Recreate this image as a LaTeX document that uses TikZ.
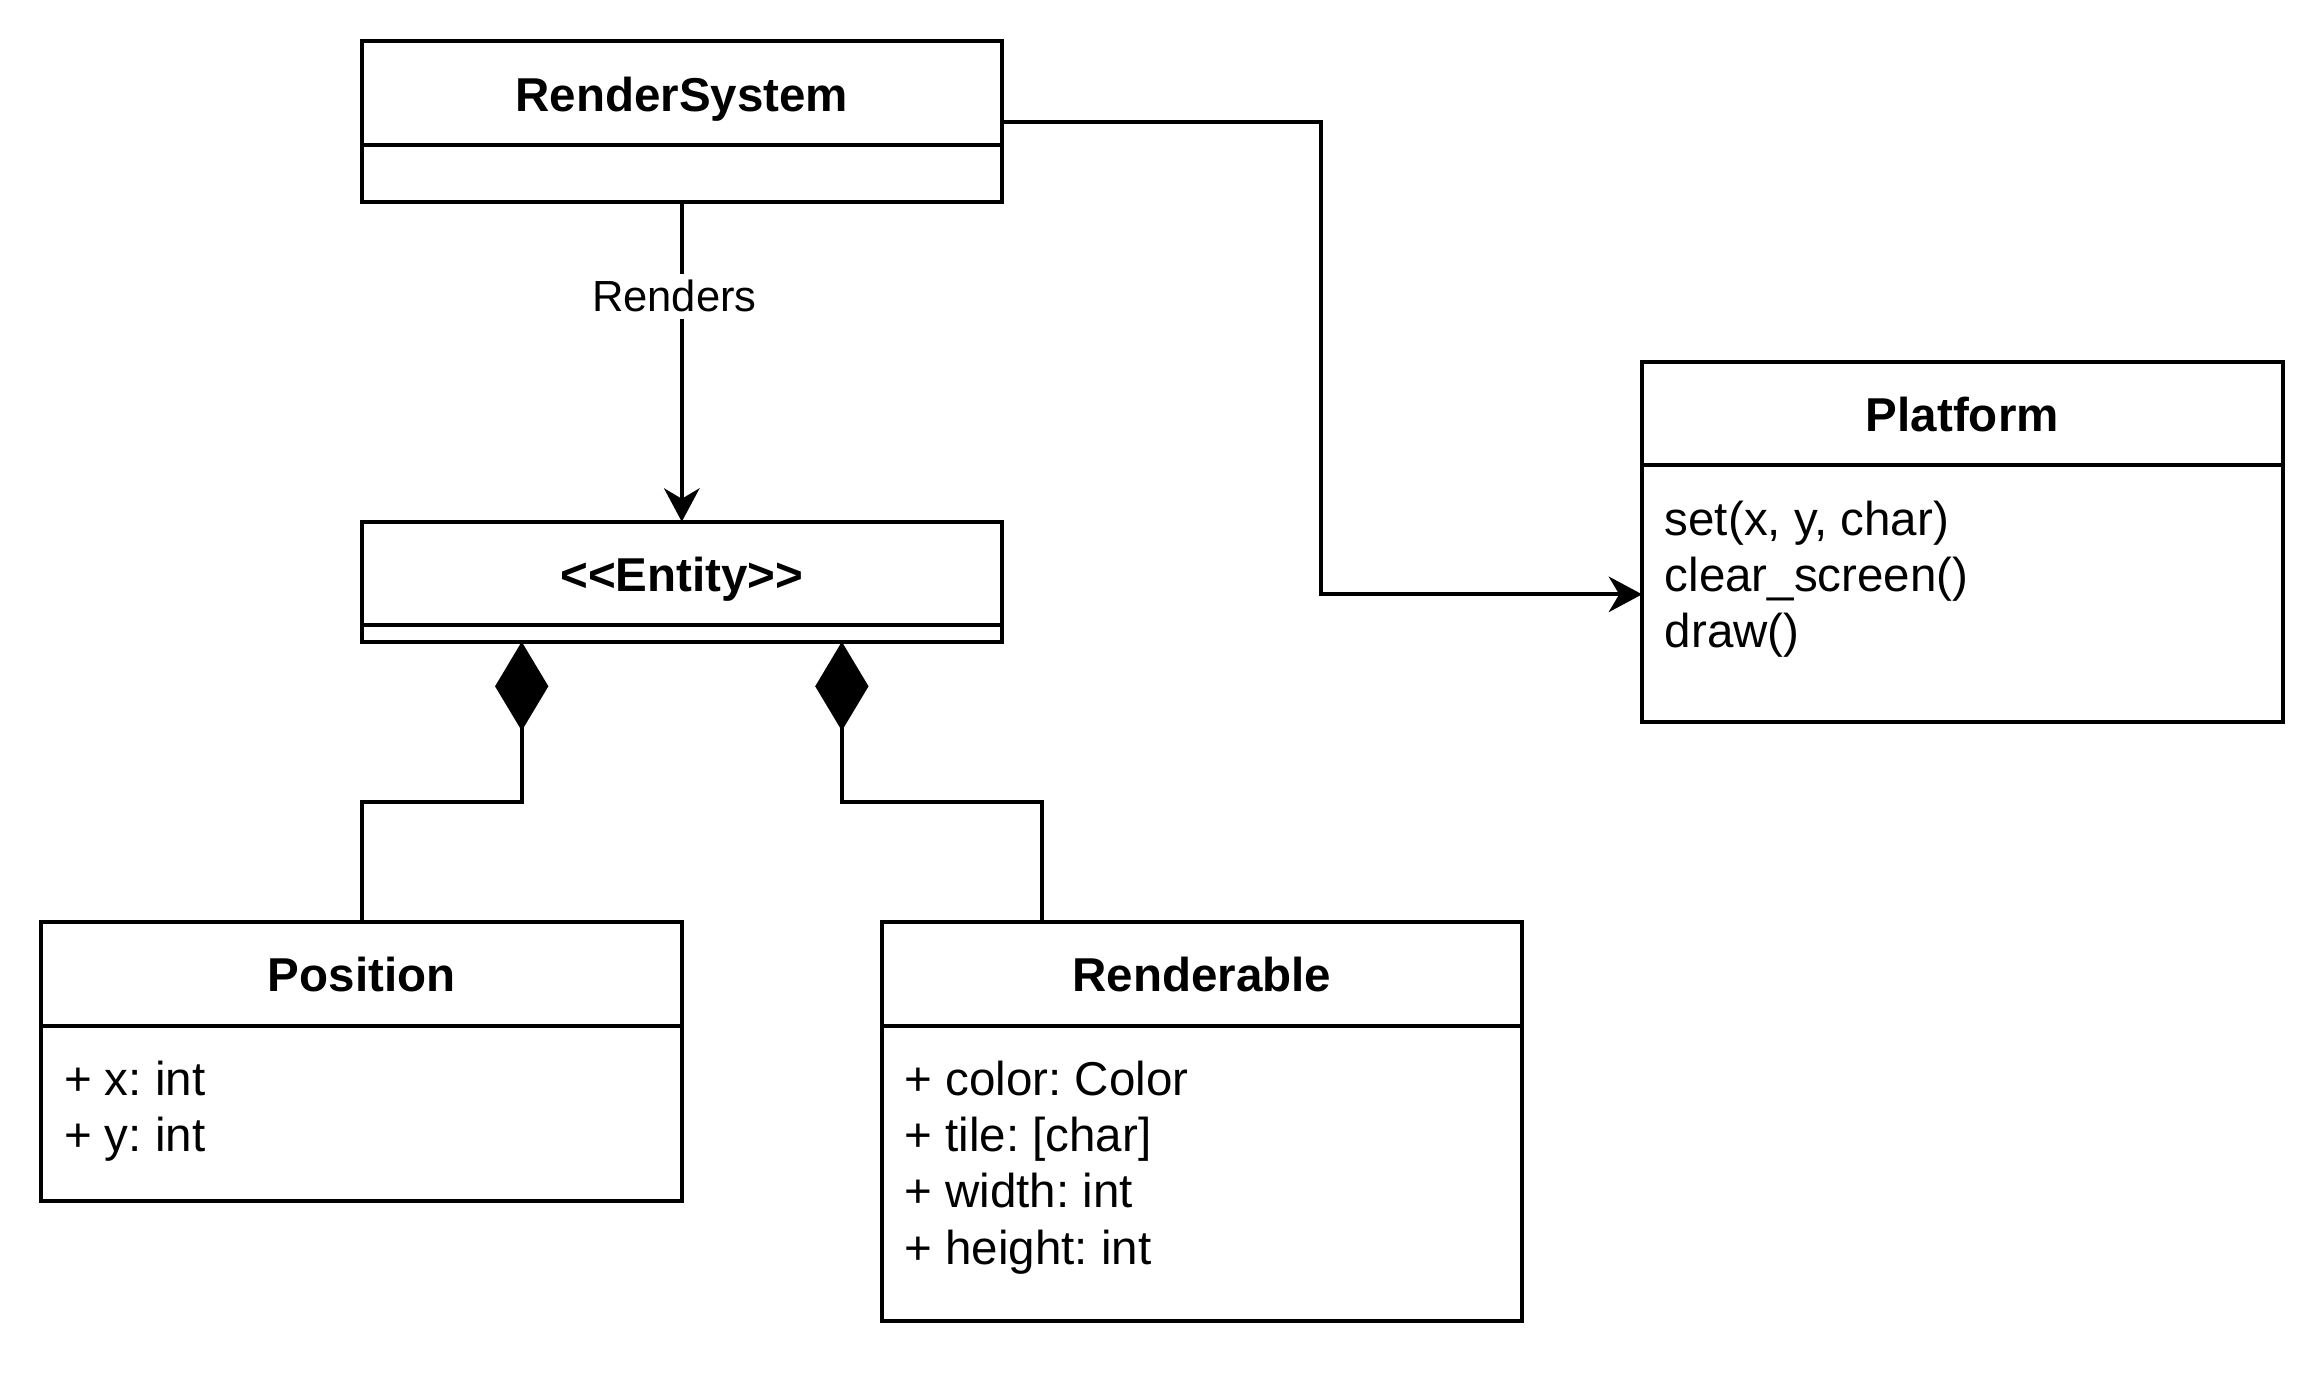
\documentclass[tikz,border=0pt]{standalone}
\usepackage{fontspec}
\setmainfont{Liberation Sans}
\usetikzlibrary{calc,arrows.meta}
\frenchspacing

\begin{document}
\begin{tikzpicture}[x=0.025cm, y=-0.025cm,
		classbox/.style={draw, line width=1.9pt, inner sep=0pt, outer sep=0pt, minimum width=10.8cm},
		classname/.style={font=\fontsize{22.8}{27.3}\selectfont\bfseries, anchor=base, inner sep=0pt},
		member/.style={font=\fontsize{22.8}{27.3}\selectfont, anchor=base west, inner sep=0pt},
		link/.style={line width=1.9pt},
		assoc/.style={link, -{Stealth[length=16pt, width=17pt, inset=5pt]}},
		comp/.style={link, -{Diamond[length=42.7pt, width=25.6pt]}}]
		%%%%% START %%%%%
		
		\useasboundingbox (0, 0) rectangle (1568, 928.3);
		
		\node[classbox, minimum height=2.7cm] (rs) at (460, 82) {};
		\node[classname] (rsname) at ($(rs.north)+(0, 47)$) {RenderSystem};
		\draw[link] ($(rs.north west)+(0, 70)$) -- ($(rs.north east)+(0, 70)$);
		
		\node[classbox, minimum height=2.025cm] (ent) at (460, 392.5) {};
		\node[classname] (entname) at ($(ent.north)+(0, 47)$) {{<}{<}Entity{>}{>}};
		\draw[link] ($(ent.north west)+(0, 70)$) -- ($(ent.north east)+(0, 70)$);
		
		\node[classbox, minimum height=6.075cm] (plat) at (1324, 365.5) {};
		\node[classname] (platname) at ($(plat.north)+(0, 47)$) {Platform};
		\draw[link] ($(plat.north west)+(0, 70)$) -- ($(plat.north east)+(0, 70)$);
		\foreach \txt [count=\i] in {{set(x, y, char)}, {clear\_screen()}, {draw()}}
			\node[member] (plat\i) at ($(plat.north west)+(15, 79+38*\i)$) {\txt};
		
		\node[classbox, minimum height=4.7cm] (pos) at (244, 716) {};
		\node[classname] (posname) at ($(pos.north)+(0, 47)$) {Position};
		\draw[link] ($(pos.north west)+(0, 70)$) -- ($(pos.north east)+(0, 70)$);
		\foreach \txt [count=\i] in {{+ x: int}, {+ y: int}}
			\node[member] (pos\i) at ($(pos.north west)+(15, 79+38*\i)$) {\txt};
		
		\node[classbox, minimum height=6.725cm] (rend) at (811, 756.5) {};
		\node[classname] (rendname) at ($(rend.north)+(0, 47)$) {Renderable};
		\draw[link] ($(rend.north west)+(0, 70)$) -- ($(rend.north east)+(0, 70)$);
		\foreach \txt [count=\i] in {{+ color: Color}, {+ tile: [char]}, {+ width: int}, {+ height: int}}
			\node[member] (rend\i) at ($(rend.north west)+(15, 79+38*\i)$) {\txt};
		
		% connectors
		\coordinate (platin) at ($(plat.west)+(0, 35.5)$);
		\coordinate (entleft) at ($(ent.south)+(-108, 0)$);
		\coordinate (entright) at ($(ent.south)+(108, 0)$);
		\coordinate (rendtop) at ($(rend.north)+(-108, 0)$);
		
		\draw[assoc] (rs.south) -- node[pos=0.296, xshift=-0.125cm, fill=white, inner sep=3pt, font=\fontsize{20.9}{25}\selectfont] (renders) {Renders} (ent.north);
		\draw[assoc] (rs.east) -- ++(215, 0) |- (platin);
		
		\draw[comp] (pos.north) -- ++(0, -81) -| (entleft);
		\draw[comp] (rendtop) -- ++(0, -81) -| (entright);
		
		%%%%% END %%%%%
	\end{tikzpicture}
\end{document}
